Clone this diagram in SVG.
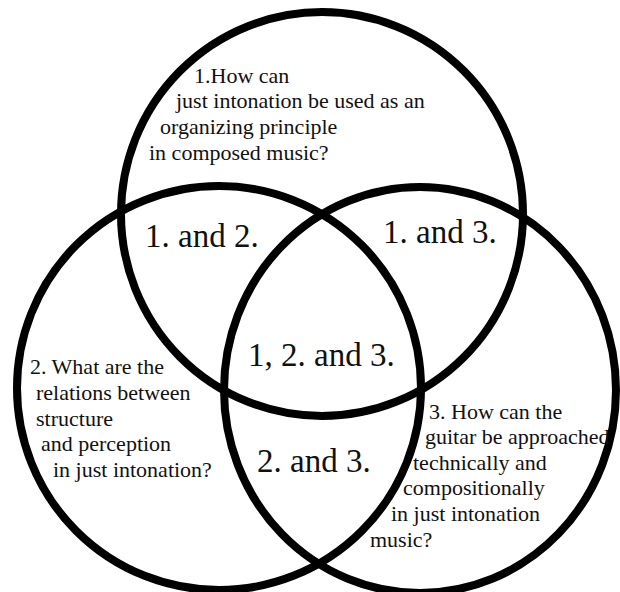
<svg xmlns="http://www.w3.org/2000/svg" width="620" height="592" viewBox="0 0 620 592">
<style>
.ring{fill:none;stroke:#000;stroke-width:8}
.q{font-family:"Liberation Serif","Times New Roman",serif;font-size:22px;fill:#111}
.lbl{font-family:"Liberation Serif","Times New Roman",serif;font-size:33px;fill:#111}
</style>
<rect width="620" height="592" fill="#fff"/>
<g id="circle1">
<ellipse class="ring" cx="322" cy="214" rx="201" ry="202"/>
<text class="q" x="194" y="83">1.How can</text>
<text class="q" x="176" y="108">just intonation be used as an</text>
<text class="q" x="160" y="134">organizing principle</text>
<text class="q" x="149" y="160">in composed music?</text>
</g>
<g id="circle2">
<ellipse class="ring" cx="219" cy="388" rx="202" ry="202"/>
<text class="q" x="30" y="374">2. What are the</text>
<text class="q" x="36" y="400">relations between</text>
<text class="q" x="36" y="426">structure</text>
<text class="q" x="41" y="451">and perception</text>
<text class="q" x="53" y="477">in just intonation?</text>
</g>
<g id="circle3">
<ellipse class="ring" cx="420" cy="390" rx="196" ry="203"/>
<text class="q" x="429" y="419">3. How can the</text>
<text class="q" x="425" y="444">guitar be approached</text>
<text class="q" x="413" y="470">technically and</text>
<text class="q" x="403" y="495">compositionally</text>
<text class="q" x="391" y="521">in just intonation</text>
<text class="q" x="370" y="547">music?</text>
</g>
<g id="overlap12"><text class="lbl" x="145" y="247">1. and 2.</text></g>
<g id="overlap13"><text class="lbl" x="383" y="243">1. and 3.</text></g>
<g id="overlap123"><text class="lbl" x="248" y="366">1, 2. and 3.</text></g>
<g id="overlap23"><text class="lbl" x="257" y="472">2. and 3.</text></g>
</svg>
